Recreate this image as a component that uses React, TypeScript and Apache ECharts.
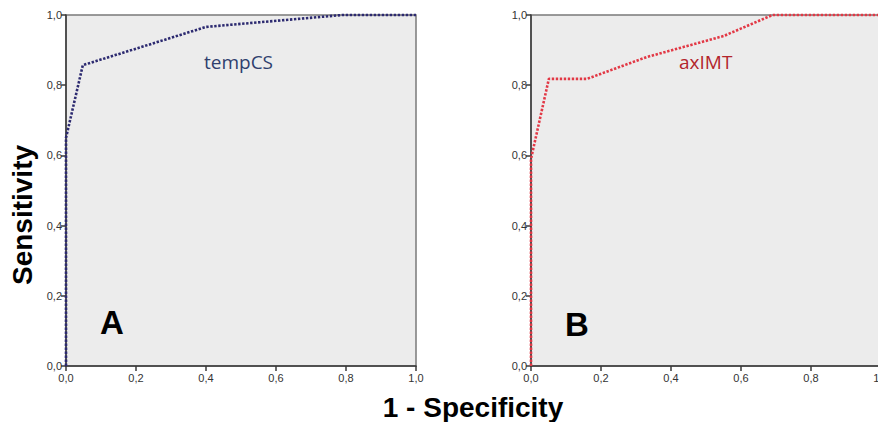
import React, { useEffect, useRef } from "react";
import * as echarts from "echarts";

const tickValues = [0, 0.2, 0.4, 0.6, 0.8, 1.0];
const tempcsFpr = [0, 0, 0.048, 0.4, 0.79, 1];
const tempcsTpr = [0, 0.65, 0.857, 0.966, 1, 1];
const aximtFpr = [0, 0, 0.051, 0.16, 0.33, 0.55, 0.69, 1];
const aximtTpr = [0, 0.59, 0.818, 0.818, 0.88, 0.94, 1, 1];
const panelLabels = ["A", "B"];
const curveNames = ["tempCS", "axIMT"];
const xTitle = "1 - Specificity";
const yTitle = "Sensitivity";

const fmt = (v: number) => v.toFixed(1).replace(".", ",");

export default function App() {
  const ref = useRef<HTMLDivElement>(null);
  useEffect(() => {
    if (!ref.current) return;
    const chart = echarts.init(ref.current, undefined, { renderer: "svg" });
    const axisCommon = {
      type: "value" as const,
      min: tickValues[0],
      max: tickValues[tickValues.length - 1],
      interval: 0.2,
      splitLine: { show: false },
      axisLine: { show: true, lineStyle: { color: "#3a3a3a", width: 1.5 } },
      axisTick: { show: true, length: 5, lineStyle: { color: "#3a3a3a", width: 1.5 } },
      axisLabel: {
        formatter: fmt,
        color: "#333",
        fontSize: 11,
        fontFamily: "Liberation Sans, Arial, sans-serif",
      },
    };
    const grids = [
      { left: 66, top: 15, width: 350, height: 351 },
      { left: 531, top: 15, width: 350, height: 351 },
    ].map((g) => ({
      ...g,
      show: true,
      backgroundColor: "#ececec",
      borderColor: "#7a7a7a",
      borderWidth: 1.5,
      containLabel: false,
    }));
    const mk = (xs: number[], ys: number[]) => xs.map((x, i) => [x, ys[i]]);
    chart.setOption({
      animation: false,
      grid: grids,
      xAxis: [0, 1].map((i) => ({
        ...axisCommon,
        gridIndex: i,
        axisLabel: { ...axisCommon.axisLabel, margin: 6 },
      })),
      yAxis: [0, 1].map((i) => ({
        ...axisCommon,
        gridIndex: i,
        axisLabel: { ...axisCommon.axisLabel, margin: 4 },
      })),
      series: [
        {
          name: curveNames[0],
          type: "line",
          xAxisIndex: 0,
          yAxisIndex: 0,
          data: mk(tempcsFpr, tempcsTpr),
          showSymbol: false,
          symbol: "none",
          clip: false,
          lineStyle: { color: "#2c2a70", width: 2.6, type: [2.4, 1.6], cap: "butt" },
        },
        {
          name: curveNames[1],
          type: "line",
          xAxisIndex: 1,
          yAxisIndex: 1,
          data: mk(aximtFpr, aximtTpr),
          showSymbol: false,
          symbol: "none",
          clip: false,
          lineStyle: { color: "#e23845", width: 2.6, type: [2.4, 1.6], cap: "butt" },
        },
      ],
      graphic: [
        {
          type: "text",
          left: 204,
          top: 52,
          style: {
            text: curveNames[0],
            fill: "#2f3f6e",
            font: "19px 'Open Sans', sans-serif",
          },
        },
        {
          type: "text",
          left: 679,
          top: 52,
          style: {
            text: curveNames[1],
            fill: "#b3252c",
            font: "19px 'Open Sans', sans-serif",
          },
        },
        {
          type: "text",
          left: 100,
          top: 306,
          style: {
            text: panelLabels[0],
            fill: "#000",
            font: "bold 33px 'Liberation Sans', Arial, sans-serif",
          },
        },
        {
          type: "text",
          left: 565,
          top: 308,
          style: {
            text: panelLabels[1],
            fill: "#000",
            font: "bold 33px 'Liberation Sans', Arial, sans-serif",
          },
        },
        {
          type: "text",
          x: 473,
          y: 407,
          style: {
            text: xTitle,
            fill: "#000",
            align: "center",
            verticalAlign: "middle",
            font: "bold 28px 'Liberation Sans', Arial, sans-serif",
          },
        },
        {
          type: "text",
          x: 22,
          y: 215,
          rotation: Math.PI / 2,
          style: {
            text: yTitle,
            fill: "#000",
            align: "center",
            verticalAlign: "middle",
            font: "bold 28px 'Liberation Sans', Arial, sans-serif",
          },
        },
      ],
    });
    return () => chart.dispose();
  }, []);
  return (
    <div
      style={{
        position: "absolute",
        left: 0,
        top: 0,
        width: 878,
        height: 422,
        overflow: "hidden",
      }}
    >
      <div ref={ref} style={{ width: 910, height: 422 }} />
    </div>
  );
}
